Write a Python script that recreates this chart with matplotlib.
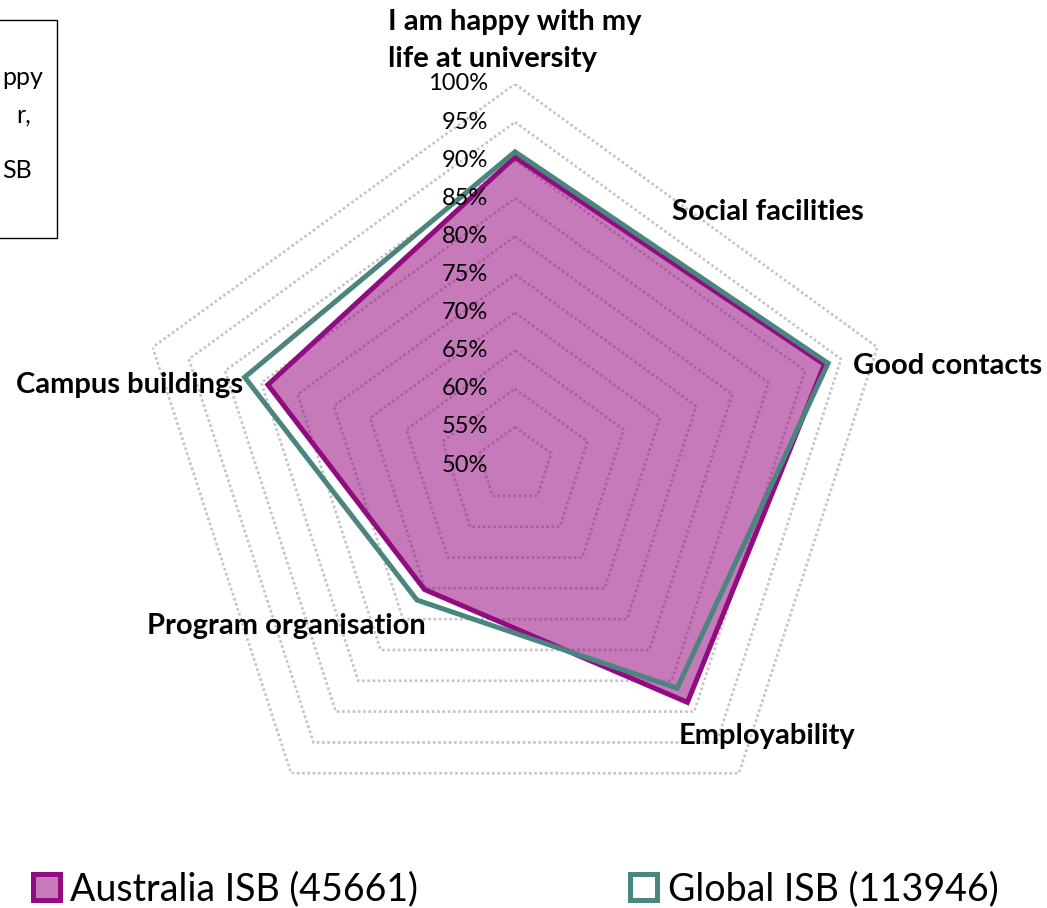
import numpy as np
import matplotlib
matplotlib.use("Agg")
import matplotlib.pyplot as plt
from matplotlib.patches import Rectangle

plt.rcParams['font.family'] = ['Lato', 'DejaVu Sans']

categories = ["I am happy with my\nlife at university", "Good contacts",
              "Employability", "Program organisation", "Campus buildings"]
extra_label = "Social facilities"
australia = [90.4, 92.7, 88.5, 70.2, 84.1]
global_isb = [91.1, 93.2, 86.2, 71.9, 87.3]
series_names = ["Australia ISB (45661)", "Global ISB (113946)"]
ticks = [50, 55, 60, 65, 70, 75, 80, 85, 90, 95, 100]
box_lines = ["ppy", "r,", "SB"]  # visible ends of a text box cut by the edge

W, H = 1047, 908
fig = plt.figure(figsize=(W / 100, H / 100), dpi=100)

def fx(px):
    return px / W

def fy(py):
    return 1 - py / H

# polar axes: centre (515, 465) px, radius 381 px
ax = fig.add_axes([fx(515 - 381), fy(465 + 381), 762 / W, 762 / H], projection='polar')
ax.set_theta_offset(np.pi / 2)
ax.set_theta_direction(-1)
ax.set_ylim(50, 100)
ax.axis('off')

n = len(categories)
angles = np.linspace(0, 2 * np.pi, n, endpoint=False)
closed = np.append(angles, angles[0])

# dotted pentagon rings
for t in ticks[1:]:
    ax.plot(closed, [t] * (n + 1), color='#c4c4c4', lw=1.9, ls=(0, (1, 1)),
            dash_capstyle='butt', zorder=1)

ax.fill(closed, australia + australia[:1], facecolor=(0.572, 0.0, 0.478, 0.52),
        edgecolor='#900C80', lw=3.6, joinstyle='miter', zorder=2,
        label=series_names[0])
ax.fill(closed, global_isb + global_isb[:1], facecolor='none',
        edgecolor='#4A857E', lw=3.6, joinstyle='miter', zorder=3,
        label=series_names[1])

# radial tick labels along the top axis
for t in ticks:
    ax.annotate(f"{t}%", xy=(0, t), xytext=(-19.5, 0), textcoords='offset points',
                ha='right', va='center', fontsize=17, color='black', zorder=4)

# category labels
lab = dict(fontsize=21, fontweight='bold', color='black')
top1, top2 = categories[0].split("\n")
fig.text(fx(388), fy(30), top1, ha='left', va='baseline', **lab)
fig.text(fx(388), fy(67), top2, ha='left', va='baseline', **lab)
fig.text(fx(672), fy(212), extra_label, ha='left', va='center', **lab)
fig.text(fx(853), fy(366), categories[1], ha='left', va='center', **lab)
fig.text(fx(679), fy(736), categories[2], ha='left', va='center', **lab)
fig.text(fx(147), fy(626), categories[3], ha='left', va='center', **lab)
fig.text(fx(243), fy(385), categories[4], ha='right', va='center', **lab)

# text box in the top-left corner, cut by the figure edge
fig.patches.append(Rectangle((fx(-300), fy(238)), fx(357), (238 - 20) / H,
                             transform=fig.transFigure, facecolor='none',
                             edgecolor='black', lw=1.0))
fig.text(fx(2), fy(85), box_lines[0], ha='left', va='baseline', fontsize=18)
fig.text(fx(31), fy(123), box_lines[1], ha='right', va='baseline', fontsize=18)
fig.text(fx(2), fy(178), box_lines[2], ha='left', va='baseline', fontsize=18)

# legend: two entries placed apart
handles, labels = ax.get_legend_handles_labels()
for h, l, x0 in zip(handles, labels, [33, 630]):
    fig.legend([h], [l], loc='center left', bbox_to_anchor=(fx(x0), fy(889)),
               frameon=False, fontsize=27, handlelength=0.72, handleheight=0.72,
               handletextpad=0.28, borderpad=0, borderaxespad=0)

fig.savefig("out.png", dpi=100)
